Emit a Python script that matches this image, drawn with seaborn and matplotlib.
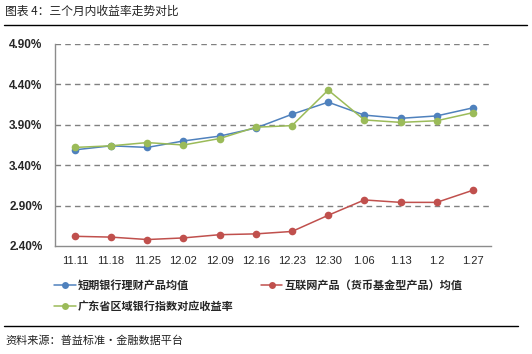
import numpy as np
import pandas as pd
import matplotlib
matplotlib.use('Agg')
import matplotlib.pyplot as plt
import seaborn as sns
from matplotlib.lines import Line2D

dates = ['11.11', '11.18', '11.25', '12.02', '12.09', '12.16',
         '12.23', '12.30', '1.06', '1.13', '1.2', '1.27']
bank_short = [3.59, 3.64, 3.62, 3.70, 3.76, 3.86, 4.03, 4.18, 4.02, 3.98, 4.01, 4.11]
internet_fund = [2.52, 2.51, 2.48, 2.50, 2.54, 2.55, 2.58, 2.78, 2.97, 2.94, 2.94, 3.09]
guangdong_idx = [3.62, 3.64, 3.68, 3.65, 3.73, 3.87, 3.89, 4.33, 3.96, 3.93, 3.95, 4.05]

names = ['短期银行理财产品均值', '互联网产品（货币基金型产品）均值', '广东省区域银行指数对应收益率']
colors = ['#4F81BD', '#C0504D', '#9BBB59']
y_ticks = [2.40, 2.90, 3.40, 3.90, 4.40, 4.90]

sns.set_style('white')
plt.rcParams['font.family'] = ['Noto Sans CJK SC', 'DejaVu Sans']

df = pd.DataFrame({
    'date': dates * 3,
    'pos': list(range(len(dates))) * 3,
    'value': bank_short + internet_fund + guangdong_idx,
    'series': [names[0]] * 12 + [names[1]] * 12 + [names[2]] * 12,
})

W, H = 532, 354
fig = plt.figure(figsize=(W / 100, H / 100), dpi=100)
ax = fig.add_axes([55 / W, (H - 246) / H, (491 - 55) / W, (246 - 44) / H])

sns.lineplot(data=df, x='pos', y='value', hue='series', palette=dict(zip(names, colors)),
             marker='o', markersize=5.5, markeredgewidth=0, linewidth=1.1,
             sort=False, legend=False, ax=ax)

ax.set_xlim(-0.55, 11.5)
ax.set_ylim(2.40, 4.90)
ax.set_yticks(y_ticks)
ax.set_yticklabels([f'{v:.2f}%' for v in y_ticks], fontsize=8.5, fontweight='bold',
                   family=['Liberation Sans', 'DejaVu Sans'])
ax.set_xticks(range(len(dates)))
ax.set_xticklabels(dates, fontsize=8, family=['Liberation Sans', 'DejaVu Sans'])
ax.tick_params(axis='both', length=0)
ax.tick_params(axis='y', pad=9)
ax.tick_params(axis='x', pad=7)
ax.set_xlabel('')
ax.set_ylabel('')

for v in y_ticks[1:]:
    ax.axhline(v, color='#808080', linewidth=1, linestyle=(0, (4, 3)), zorder=0)

for s in ['top', 'right']:
    ax.spines[s].set_visible(False)
for s in ['left', 'bottom']:
    ax.spines[s].set_color('#8c8c8c')
    ax.spines[s].set_linewidth(1)

handles = [Line2D([], [], color=c, marker='o', markersize=5, markeredgewidth=0, linewidth=1.1)
           for c in colors]
order = [0, 2, 1]
fig.legend([handles[i] for i in order], [names[i] for i in order],
           loc='upper left', bbox_to_anchor=(50 / W, 1 - 274 / H), ncol=2, frameon=False,
           prop={'size': 8, 'weight': 'bold'}, handlelength=1.9, handletextpad=0.2,
           columnspacing=2.5, labelspacing=0.8, borderaxespad=0)

fig.text(5 / W, 1 - 11 / H, '图表 4：三个月内收益率走势对比', fontsize=8.5, color='#222222',
         va='center', ha='left')
fig.add_artist(Line2D([4 / W, 527 / W], [1 - 25 / H, 1 - 25 / H], color='black', linewidth=1))
fig.add_artist(Line2D([4 / W, 518 / W], [1 - 326 / H, 1 - 326 / H], color='black', linewidth=1))
fig.text(5 / W, 1 - 341 / H, '资料来源：普益标准·金融数据平台', fontsize=8, color='#222222',
         va='center', ha='left')

fig.savefig('out.png', dpi=100, facecolor='white')
